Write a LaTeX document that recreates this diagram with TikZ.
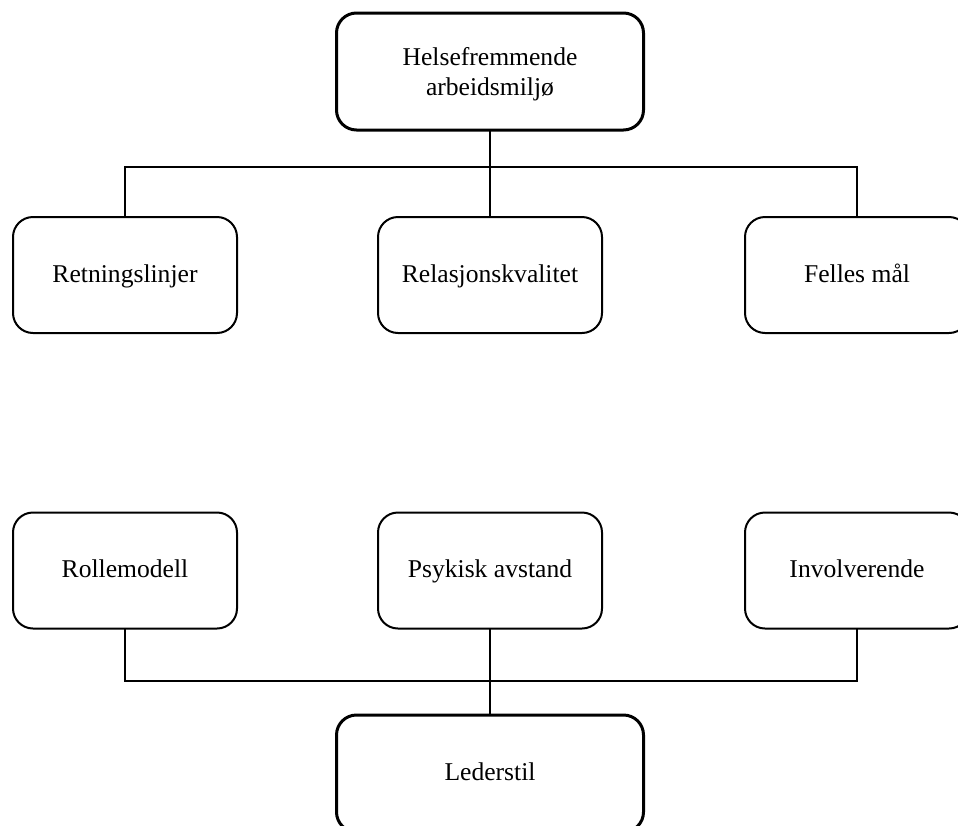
\documentclass[tikz,border=0pt]{standalone}
\usepackage{fontspec}
\setmainfont{Liberation Serif}
\begin{document}
\begin{tikzpicture}[x=1pt,y=-1pt,
  every node/.style={font=\fontsize{25.6}{30}\selectfont, inner sep=0pt, outer sep=0pt},
  item/.style={draw, line width=2pt, rounded corners=20pt,
    minimum width=224pt, minimum height=116pt,
    text height=17.5pt, text depth=3pt},
  mainbox/.style={draw, line width=3pt, rounded corners=20pt,
    minimum width=307pt, minimum height=117pt},
  link/.style={line width=2pt}]
  \useasboundingbox (0,0) rectangle (958,825);

  % upper tree
  \node[mainbox, align=center, text depth=0pt] (helse) at (490,71.5)
    {Helsefremmende\\arbeidsmiljø};
  \node[item] (ret) at (125,275) {Retningslinjer};
  \node[item] (rel) at (490,275) {Relasjonskvalitet};
  \node[item] (fel) at (857,275) {Felles mål};
  \coordinate (hubA) at (490,167);
  \draw[link] (helse.south) -- (rel.north);
  \draw[link] (ret.north) -- (ret.north |- hubA) -- (fel.north |- hubA) -- (fel.north);

  % lower tree
  \node[item] (rol) at (125,570.5) {Rollemodell};
  \node[item] (psy) at (490,570.5) {Psykisk avstand};
  \node[item] (inv) at (857,570.5) {Involverende};
  \node[mainbox, text height=17.5pt, text depth=3pt] (leder) at (490,773.5) {Lederstil};
  \coordinate (hubB) at (490,681);
  \draw[link] (psy.south) -- (leder.north);
  \draw[link] (rol.south) -- (rol.south |- hubB) -- (inv.south |- hubB) -- (inv.south);
\end{tikzpicture}
\end{document}
